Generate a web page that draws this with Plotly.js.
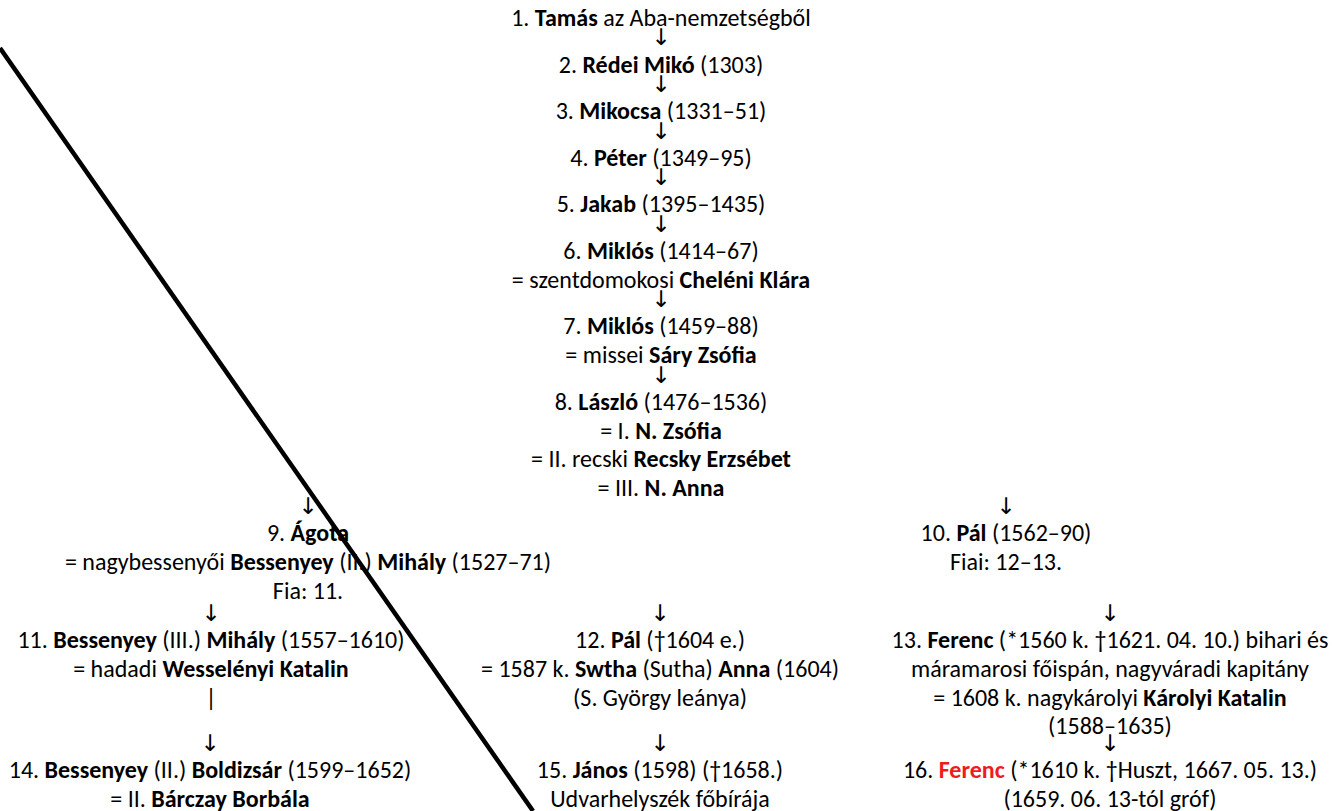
<!DOCTYPE html>
<html>
<head>
<meta charset="utf-8">
<script src="https://cdn.plot.ly/plotly-3.0.1.min.js"></script>
<style>
  html, body { margin: 0; padding: 0; background: #ffffff; }
  #chart { width: 1332px; height: 811px; }
</style>
</head>
<body>
<div id="chart"></div>
<script>
// ---------- DATA ----------
const ARROW = "↓";

// Main line (centre column)
const mainLine = [
  "1. <b>Tamás</b> az Aba-nemzetségből", ARROW,
  "2. <b>Rédei Mikó</b> (1303)", ARROW,
  "3. <b>Mikocsa</b> (1331–51)", ARROW,
  "4. <b>Péter</b> (1349–95)", ARROW,
  "5. <b>Jakab</b> (1395–1435)", ARROW,
  "6. <b>Miklós</b> (1414–67)",
  "= szentdomokosi <b>Cheléni Klára</b>", ARROW,
  "7. <b>Miklós</b> (1459–88)",
  "= missei <b>Sáry Zsófia</b>", ARROW,
  "8. <b>László</b> (1476–1536)",
  "= I. <b>N. Zsófia</b>",
  "= II. recski <b>Recsky Erzsébet</b>",
  "= III. <b>N. Anna</b>"
];

// Second generation branch
const branchAgota = [
  ARROW,
  "9. <b>Ágota</b>",
  "= nagybessenyői <b>Bessenyey</b> (II.) <b>Mihály</b> (1527–71)",
  "Fia: 11."
];
const branchPal = [
  ARROW,
  "10. <b>Pál</b> (1562–90)",
  "Fiai: 12–13."
];

// Third generation
const genBessenyey = [
  ARROW,
  "11. <b>Bessenyey</b> (III.) <b>Mihály</b> (1557–1610)",
  "= hadadi <b>Wesselényi Katalin</b>",
  "|"
];
const genPal = [
  ARROW,
  "12. <b>Pál</b> (†1604 e.)",
  "= 1587 k. <b>Swtha</b> (Sutha) <b>Anna</b> (1604)",
  "(S. György leánya)"
];
const genFerenc = [
  ARROW,
  "13. <b>Ferenc</b> (*1560 k. †1621. 04. 10.) bihari és",
  "máramarosi főispán, nagyváradi kapitány",
  "= 1608 k. nagykárolyi <b>Károlyi Katalin</b>",
  "(1588–1635)"
];

// Fourth generation
const genBoldizsar = [
  ARROW,
  "14. <b>Bessenyey</b> (II.) <b>Boldizsár</b> (1599–1652)",
  "= II. <b>Bárczay Borbála</b>"
];
const genJanos = [
  ARROW,
  "15. <b>János</b> (1598) (†1658.)",
  "Udvarhelyszék főbírája"
];
const genFerenc2 = [
  ARROW,
  "16. <b><span style=\"color:#ee1c1c\">Ferenc</span></b> (*1610 k. †Huszt, 1667. 05. 13.)",
  "(1659. 06. 13-tól gróf)"
];

// Diagonal stroke across the chart (page pixel coordinates)
const slashX = [0, 533];
const slashY = [48, 811];

// ---------- LAYOUT (cells of the family table) ----------
const W = 1332, H = 811;
const cells = [
  { lines: mainLine,     cx: 661,  y0: 20  },
  { lines: branchAgota,  cx: 308,  y0: 508 },
  { lines: branchPal,    cx: 1006, y0: 508 },
  { lines: genBessenyey, cx: 211,  y0: 615 },
  { lines: genPal,       cx: 660,  y0: 615 },
  { lines: genFerenc,    cx: 1110, y0: 615 },
  { lines: genBoldizsar, cx: 210,  y0: 745 },
  { lines: genJanos,     cx: 660,  y0: 745 },
  { lines: genFerenc2,   cx: 1110, y0: 745 }
];
const STEP_TEXT = 28.8, STEP_TO_ARROW = 19.6, STEP_FROM_ARROW = 27;

const tx = [], ty = [], tt = [];
const ax = [], ay = [], at = [];
cells.forEach(c => {
  let y = c.y0;
  c.lines.forEach((s, i) => {
    if (i > 0) {
      const prev = c.lines[i - 1];
      if (prev === ARROW) y += STEP_FROM_ARROW;
      else if (s === ARROW) y += STEP_TO_ARROW;
      else y += STEP_TEXT;
    }
    if (s === ARROW) { ax.push(c.cx); ay.push(y); at.push(s); }
    else { tx.push(c.cx); ty.push(y); tt.push(s); }
  });
});

const FONT = "Carlito, Calibri, Lato, 'Open Sans', sans-serif";

const traces = [
  {
    type: "scatter", mode: "text",
    x: tx, y: ty, text: tt,
    textposition: "middle center",
    textfont: { family: FONT, size: 24, color: "#000000" },
    hoverinfo: "skip", cliponaxis: false
  },
  {
    type: "scatter", mode: "text",
    x: ax, y: ay, text: at,
    textposition: "middle center",
    textfont: { family: "'DejaVu Sans', sans-serif", size: 23, color: "#000000" },
    hoverinfo: "skip", cliponaxis: false
  },
  {
    type: "scatter", mode: "lines",
    x: slashX, y: slashY,
    line: { color: "#000000", width: 4.5 },
    hoverinfo: "skip", cliponaxis: false
  }
];

const layout = {
  width: W, height: H,
  margin: { l: 0, r: 0, t: 0, b: 0, pad: 0 },
  paper_bgcolor: "#ffffff", plot_bgcolor: "#ffffff",
  showlegend: false,
  xaxis: { range: [0, W], visible: false, fixedrange: true },
  yaxis: { range: [H, 0], visible: false, fixedrange: true }
};

Plotly.newPlot("chart", traces, layout, { displayModeBar: false, staticPlot: true });
</script>
</body>
</html>
